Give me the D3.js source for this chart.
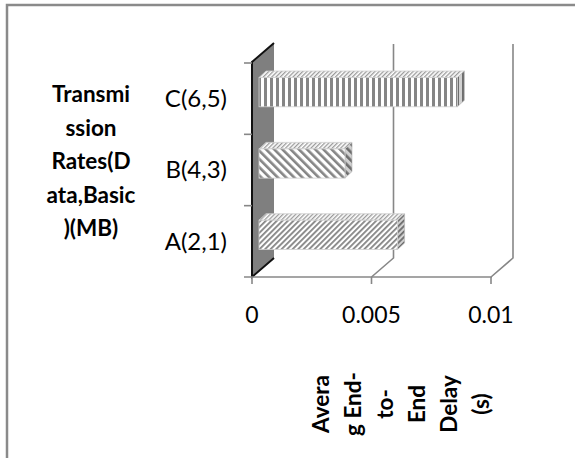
<!DOCTYPE html>
<html><head><meta charset="utf-8">
<script src="https://cdn.jsdelivr.net/npm/d3@7"></script>
<style>html,body{margin:0;padding:0;background:#fff;}svg{display:block;}</style>
</head><body>
<svg id="chart" width="575" height="458"></svg>
<script>
// ---- data ----
const categories = ["A(2,1)", "B(4,3)", "C(6,5)"];
const delays = [0.0058, 0.0036, 0.0083];
const xTicks = [0, 0.005, 0.01];
const xTickLabels = ["0", "0.005", "0.01"];
const yTitleLines = ["Transmi", "ssion", "Rates(D", "ata,Basic", ")(MB)"];
const xTitleLines = ["Avera", "g End-", "to-", "End", "Delay", "(s)"];
const patterns = ["up", "down", "vert"];

const svg = d3.select("#chart");
const FONT = "Lato, 'Open Sans', sans-serif";
const DX = 22, DY = -19;      // chart depth
const BDX = 7, BDY = -6.5;    // bar depth offsets

const x = d3.scaleLinear().domain([0, 0.01]).range([252, 491]);
const y = d3.scaleBand().domain(categories.slice().reverse()).range([63, 277]);
const floorY = 277, topY = 62;

// defs / patterns
const defs = svg.append("defs");
function stripe(id, w, sw, angle, color) {
  const p = defs.append("pattern").attr("id", id).attr("patternUnits", "userSpaceOnUse")
    .attr("width", w).attr("height", 20);
  if (angle) p.attr("patternTransform", `rotate(${angle})`);
  p.append("rect").attr("width", w).attr("height", 20).attr("fill", "#fff");
  p.append("rect").attr("width", sw).attr("height", 20).attr("fill", color);
}
stripe("pat-vert", 6, 3, 0, "#858585");
stripe("pat-down", 5.8, 2.6, -45, "#858585");
stripe("pat-up", 3.9, 1.8, 45, "#858585");
stripe("pat-top", 3, 1.3, 45, "#9a9a9a");

// outer border
svg.append("path").attr("d", "M7,458 L7,5 L575,5").attr("fill", "none")
  .attr("stroke", "#8a8a8a").attr("stroke-width", 2.5);

// back gridlines + floor diagonals
const gridVals = xTicks.slice(1);
svg.selectAll(".grid").data(gridVals).enter().append("path")
  .attr("d", d => `M${x(d)},${floorY} L${x(d) + DX},${floorY + DY} L${x(d) + DX},${topY + DY + 1}`)
  .attr("fill", "none").attr("stroke", "#878787").attr("stroke-width", 1.6);

// left wall
svg.append("path")
  .attr("d", `M${x(0)},${floorY} L${x(0)},${topY} L${x(0) + DX},${topY + DY} L${x(0) + DX},${floorY + DY} Z`)
  .attr("fill", "#7f7f7f").attr("stroke", "none");
svg.append("path")
  .attr("d", `M${x(0) + DX},${floorY + DY} L${x(0)},${floorY} L${x(0)},${topY} L${x(0) + DX},${topY + DY}`)
  .attr("fill", "none").attr("stroke", "#111").attr("stroke-width", 2);

// floor front edge & ticks
svg.append("line").attr("x1", 244).attr("x2", x(0.01) + 1).attr("y1", floorY).attr("y2", floorY)
  .attr("stroke", "#878787").attr("stroke-width", 1.6);
svg.selectAll(".xt").data(xTicks).enter().append("line")
  .attr("x1", d => x(d)).attr("x2", d => x(d)).attr("y1", floorY).attr("y2", floorY + 7)
  .attr("stroke", "#878787").attr("stroke-width", 1.6);
svg.selectAll(".yt").data(y.domain().map(c => y(c))).enter().append("line")
  .attr("x1", 244).attr("x2", x(0)).attr("y1", d => d).attr("y2", d => d)
  .attr("stroke", "#878787").attr("stroke-width", 1.6);

// bars
const barH = y.bandwidth() * 0.41;
categories.forEach((c, i) => {
  const v = delays[i];
  const x0 = x(0) + BDX, x1 = x(v) + BDX;
  const cy = y(c) + y.bandwidth() / 2 + BDY;
  const y0 = cy - barH / 2, y1 = cy + barH / 2;
  const g = svg.append("g");
  g.append("path").attr("d", `M${x0},${y0} L${x0 + BDX},${y0 + BDY} L${x1 + BDX},${y0 + BDY} L${x1},${y0} Z`)
    .attr("fill", "url(#pat-top)").attr("stroke", "#d0d0d0").attr("stroke-width", 0.8);
  g.append("path").attr("d", `M${x1},${y0} L${x1 + BDX},${y0 + BDY} L${x1 + BDX},${y1 + BDY} L${x1},${y1} Z`)
    .attr("fill", `url(#pat-${patterns[i]})`).attr("stroke", "#d0d0d0").attr("stroke-width", 0.8);
  g.append("path").attr("d", `M${x1},${y0} L${x1 + BDX},${y0 + BDY} L${x1 + BDX},${y1 + BDY} L${x1},${y1} Z`)
    .attr("fill", "rgba(0,0,0,0.18)");
  g.append("rect").attr("x", x0).attr("y", y0).attr("width", x1 - x0).attr("height", y1 - y0)
    .attr("fill", `url(#pat-${patterns[i]})`).attr("stroke", "#d0d0d0").attr("stroke-width", 0.8);
});

// category labels
svg.selectAll(".cl").data(categories).enter().append("text")
  .attr("x", 227).attr("y", d => y(d) + y.bandwidth() / 2)
  .attr("dy", "0.35em").attr("text-anchor", "end")
  .attr("font-family", FONT).attr("font-size", 24).attr("fill", "#000").text(d => d);

// x tick labels
svg.selectAll(".xl").data(xTicks).enter().append("text")
  .attr("x", d => x(d)).attr("y", 323).attr("text-anchor", "middle")
  .attr("font-family", FONT).attr("font-size", 23).attr("fill", "#000")
  .text((d, i) => xTickLabels[i]);

// y title
svg.selectAll(".yti").data(yTitleLines).enter().append("text")
  .attr("x", 91).attr("y", (d, i) => 102 + i * 33.5).attr("text-anchor", "middle")
  .attr("font-family", FONT).attr("font-weight", "bold").attr("font-size", 22.5).attr("fill", "#000")
  .text(d => d);

// x title (rotated)
svg.selectAll(".xti").data(xTitleLines).enter().append("text")
  .attr("transform", (d, i) => `translate(${329 + i * 32},404) rotate(-90)`)
  .attr("text-anchor", "middle")
  .attr("font-family", FONT).attr("font-weight", "bold").attr("font-size", 22.5).attr("fill", "#000")
  .text(d => d);
</script>
</body></html>
